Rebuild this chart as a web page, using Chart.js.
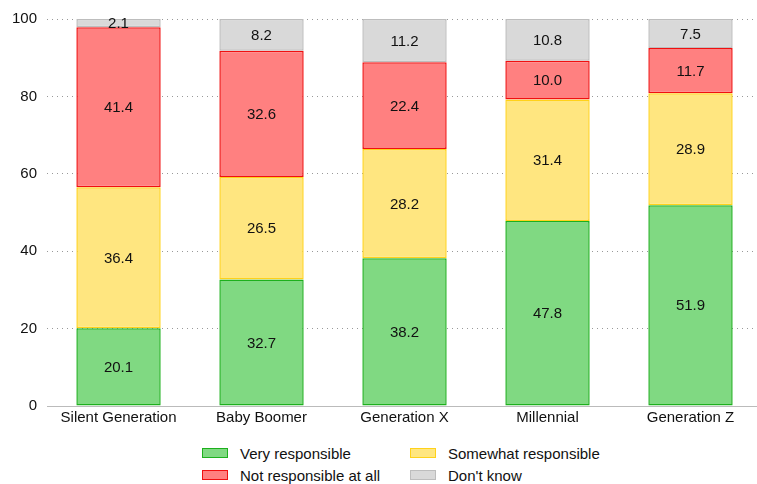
<!DOCTYPE html>
<html>
<head>
<meta charset="utf-8">
<script src="https://cdn.jsdelivr.net/npm/chart.js@4/dist/chart.umd.min.js"></script>
<style>
  html, body { margin: 0; padding: 0; background: #fff; overflow: hidden; }
  #wrap { position: relative; width: 757px; height: 484px; overflow: hidden; }
  #box { position: absolute; left: 0; top: 0; width: 762px; height: 430px; }
  #legend { position: absolute; left: 202px; top: 444px; font-family: "Liberation Sans", Arial, sans-serif; font-size: 15px; color: #111; }
  .item { position: absolute; white-space: nowrap; display: flex; align-items: center; height: 18px; }
  .sw { box-sizing: border-box; width: 26px; height: 10px; border: 1px solid; margin-right: 12px; }
</style>
</head>
<body>
<div id="wrap">
  <div id="box"><canvas id="c"></canvas></div>
  <div id="legend"></div>
</div>
<script>
// Generations surveyed
const categories = ["Silent Generation", "Baby Boomer", "Generation X", "Millennial", "Generation Z"];

// Share of respondents (%) per answer
const veryResponsible     = [20.1, 32.7, 38.2, 47.8, 51.9];
const somewhatResponsible = [36.4, 26.5, 28.2, 31.4, 28.9];
const notResponsible      = [41.4, 32.6, 22.4, 10.0, 11.7];
const dontKnow            = [2.1, 8.2, 11.2, 10.8, 7.5];

const yTicks = [0, 20, 40, 60, 80, 100];

const seriesNames = ["Very responsible", "Somewhat responsible", "Not responsible at all", "Don't know"];
const seriesData = [veryResponsible, somewhatResponsible, notResponsible, dontKnow];
const fills = ["#80d982", "#ffe680", "#ff8080", "#d9d9d9"];
const borders = ["#1db01d", "#ffd21a", "#f01010", "#bdbdbd"];

const FONT = '"Liberation Sans", Arial, sans-serif';

// Writes each segment's value in its middle
const valueLabels = {
  id: "valueLabels",
  afterDatasetsDraw(chart) {
    const ctx = chart.ctx;
    ctx.save();
    ctx.font = "15px " + FONT;
    ctx.fillStyle = "#111";
    ctx.textAlign = "center";
    ctx.textBaseline = "middle";
    chart.data.datasets.forEach((ds, i) => {
      chart.getDatasetMeta(i).data.forEach((bar, j) => {
        const v = ds.data[j];
        const yMid = (bar.y + bar.base) / 2;
        ctx.fillText(v.toFixed(1), bar.x, yMid + 1);
      });
    });
    ctx.restore();
  }
};

new Chart(document.getElementById("c"), {
  type: "bar",
  data: {
    labels: categories,
    datasets: seriesData.map((d, i) => ({
      label: seriesNames[i],
      data: d,
      backgroundColor: fills[i],
      borderColor: borders[i],
      borderWidth: 1.5,
      borderSkipped: false,
      inflateAmount: 0,
      barPercentage: 0.59,
      categoryPercentage: 1.0
    }))
  },
  options: {
    responsive: true,
    maintainAspectRatio: false,
    animation: false,
    layout: { padding: { left: 2, right: 0, top: 8, bottom: 0 } },
    plugins: { legend: { display: false }, tooltip: { enabled: false } },
    scales: {
      x: {
        stacked: true,
        grid: { display: false, drawTicks: false },
        border: { display: true, color: "#bbb" },
        ticks: { color: "#111", font: { family: FONT, size: 15 }, padding: 3, maxRotation: 0 }
      },
      y: {
        stacked: true,
        min: 0,
        max: 100,
        afterBuildTicks(axis) { axis.ticks = yTicks.map(v => ({ value: v })); },
        grid: { color: "#999", lineWidth: 1, drawTicks: false },
        border: { display: false, dash: [1, 4] },
        ticks: { color: "#111", font: { family: FONT, size: 15 }, padding: 10 }
      }
    }
  },
  plugins: [valueLabels]
});

// Legend in two columns
const legend = document.getElementById("legend");
seriesNames.forEach((name, k) => {
  const el = document.createElement("div");
  el.className = "item";
  el.style.left = (k % 2 === 0 ? 0 : 208) + "px";
  el.style.top = (k < 2 ? 0 : 22) + "px";
  el.innerHTML = '<span class="sw" style="background:' + fills[k] + ';border-color:' + borders[k] + '"></span>' + name;
  legend.appendChild(el);
});
</script>
</body>
</html>
